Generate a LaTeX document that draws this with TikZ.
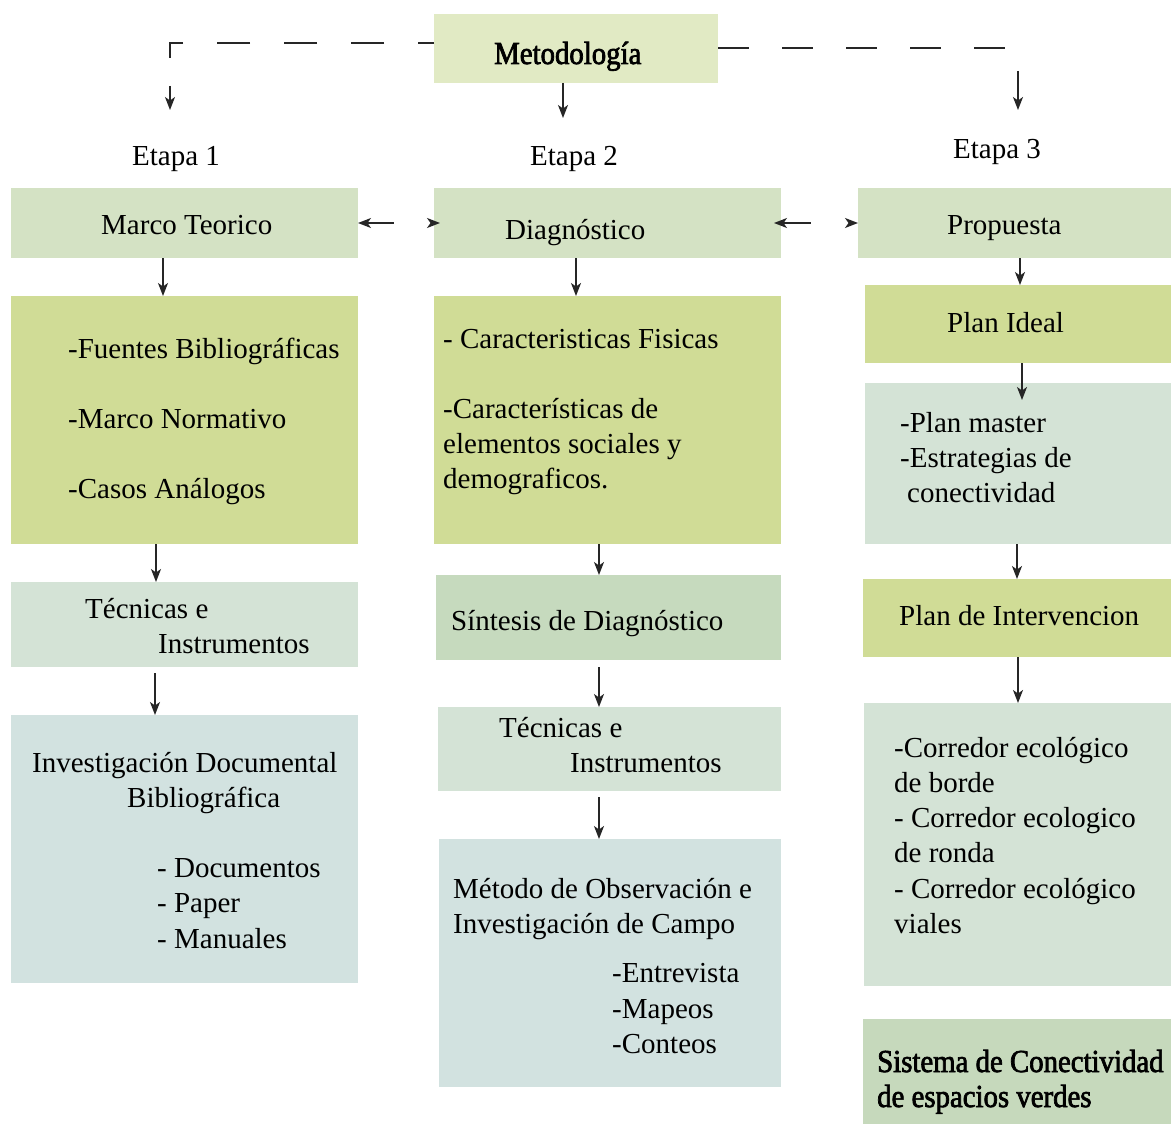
\documentclass[tikz,border=0pt]{standalone}
\usepackage{fontspec}
\setmainfont{Liberation Serif}
\newfontfamily\heavyfont{Liberation Serif}[FakeBold=2.2, FakeStretch=0.9]
\usetikzlibrary{arrows.meta,fit,calc}

\definecolor{cMeto}{HTML}{E1EAC4}
\definecolor{cHead}{HTML}{D4E2C4}
\definecolor{cOlive}{HTML}{D0DC96}
\definecolor{cSage}{HTML}{D4E3D6}
\definecolor{cBlue}{HTML}{D2E2E0}
\definecolor{cSint}{HTML}{C6DABE}
\definecolor{cSist}{HTML}{C6D9BC}

\begin{document}
\begin{tikzpicture}[x=1pt,y=-1pt,
  box/.style={inner sep=0pt, outer sep=0pt, draw=none},
  txt/.style={anchor=base west, inner sep=0pt, font=\fontsize{29}{35}\selectfont, text=black},
  txtb/.style={anchor=base west, inner sep=0pt, font=\fontsize{32}{35}\selectfont\heavyfont, text=black},
  tip/.tip={Stealth[length=13pt,width=10pt,inset=3.5pt]},
  arr/.style={draw=black!85, line width=1.3pt, -tip},
  twoway/.style={draw=black!85, line width=1.3pt, tip-tip},
  guide/.style={draw=black!85, line width=1.2pt}
]
\fill[white] (0,0) rectangle (1171,1124);
\useasboundingbox (0,0) rectangle (1171,1124);

% ---------- boxes ----------
\node[box, fill=cMeto,  fit={(434,14) (718,83)}]    (meto) {};
\node[box, fill=cHead,  fit={(11,188) (358,258)}]   (marco) {};
\node[box, fill=cHead,  fit={(434,188) (781,258)}]  (diag) {};
\node[box, fill=cHead,  fit={(858,188) (1171,258)}] (prop) {};

\node[box, fill=cOlive, fit={(11,296) (358,544)}]   (fuentes) {};
\node[box, fill=cSage,  fit={(11,582) (358,667)}]   (tec1) {};
\node[box, fill=cBlue,  fit={(11,715) (358,983)}]   (inv) {};

\node[box, fill=cOlive, fit={(434,296) (781,544)}]  (carac) {};
\node[box, fill=cSint,  fit={(436,575) (781,660)}]  (sint) {};
\node[box, fill=cSage,  fit={(438,707) (781,791)}]  (tec2) {};
\node[box, fill=cBlue,  fit={(439,839) (781,1087)}] (metodo) {};

\node[box, fill=cOlive, fit={(865,285) (1171,363)}] (plani) {};
\node[box, fill=cSage,  fit={(865,383) (1171,544)}] (master) {};
\node[box, fill=cOlive, fit={(863,579) (1171,657)}] (interv) {};
\node[box, fill=cSage,  fit={(864,703) (1171,986)}] (corr) {};
\node[box, fill=cSist,  fit={(863,1019) (1171,1124)}] (sist) {};

% ---------- texts ----------
\node[txtb] (tMeto) at (494,64) {Metodología};
\node[txt] (tE1) at (132,165) {Etapa 1};
\node[txt] (tE2) at (530,165) {Etapa 2};
\node[txt] (tE3) at (953,158) {Etapa 3};

\node[txt] (tMarco) at (101,234) {Marco Teorico};
\node[txt] (tDiag)  at (505,239) {Diagnóstico};
\node[txt] (tProp)  at (947,234) {Propuesta};

\node[txt] (tF1) at (68,358) {-Fuentes Bibliográficas};
\node[txt] (tF2) at (68,428) {-Marco Normativo};
\node[txt] (tF3) at (68,498) {-Casos Análogos};

\node[txt] (tT1a) at (85,618)  {Técnicas e};
\node[txt] (tT1b) at (158,653) {Instrumentos};

\node[txt] (tI1) at (32,772)  {Investigación Documental};
\node[txt] (tI2) at (127,807) {Bibliográfica};
\node[txt] (tI3) at (157,877) {- Documentos};
\node[txt] (tI4) at (157,912) {- Paper};
\node[txt] (tI5) at (157,948) {- Manuales};

\node[txt] (tC1) at (443,348) {- Caracteristicas Fisicas};
\node[txt] (tC2) at (443,418) {-Características de};
\node[txt] (tC3) at (443,453) {elementos sociales y};
\node[txt] (tC4) at (443,488) {demograficos.};

\node[txt] (tS) at (451,630) {Síntesis de Diagnóstico};

\node[txt] (tT2a) at (499,737) {Técnicas e};
\node[txt] (tT2b) at (570,772) {Instrumentos};

\node[txt] (tM1) at (453,898)  {Método de Observación e};
\node[txt] (tM2) at (453,933)  {Investigación de Campo};
\node[txt] (tM3) at (612,982)  {-Entrevista};
\node[txt] (tM4) at (612,1018) {-Mapeos};
\node[txt] (tM5) at (612,1053) {-Conteos};

\node[txt] (tPI) at (947,332) {Plan Ideal};
\node[txt] (tP1) at (900,432) {-Plan master};
\node[txt] (tP2) at (900,467) {-Estrategias de};
\node[txt] (tP3) at (907,502) {conectividad};
\node[txt] (tPInt) at (899,625) {Plan de Intervencion};

\node[txt] (tR1) at (894,757) {-Corredor ecológico};
\node[txt] (tR2) at (894,792) {de borde};
\node[txt] (tR3) at (894,827) {- Corredor ecologico};
\node[txt] (tR4) at (894,862) {de ronda};
\node[txt] (tR5) at (894,898) {- Corredor ecológico};
\node[txt] (tR6) at (894,933) {viales};

\node[txtb] (tSi1) at (877,1072) {Sistema de Conectividad};
\node[txtb] (tSi2) at (877,1107) {de espacios verdes};

% ---------- connectors from the title ----------
\coordinate (lTurn) at (170,43);
\coordinate (lEnd) at (170,58);
\coordinate (e1out) at (170,86);
\coordinate (e1in) at (170,110);
\coordinate (e2in) at (563,118);
\coordinate (rEnd) at (1007,48);
\coordinate (e3out) at (1018,71);
\coordinate (e3in) at (1018,110);

\draw[guide, dash pattern=on 33pt off 34pt, dash phase=17pt]
  (meto.west |- lTurn) -- (lTurn) -- (lEnd);
\draw[arr] (e1out) -- (e1in);
\draw[guide, dash pattern=on 31pt off 33pt] (meto.east |- rEnd) -- (rEnd);
\draw[arr] (e3out) -- (e3in);
\draw[arr] (e2in |- meto.south) -- (e2in);

% ---------- links between the stages ----------
\coordinate (aL) at (marco.east |- 0,223);
\coordinate (aR) at ($(diag.west |- 0,223)+(6,0)$);
\coordinate (bL) at ($(diag.east |- 0,223)+(-7,0)$);
\coordinate (bR) at (prop.west |- 0,223);
\draw[twoway, dash pattern=on 27pt off 60pt] (aL) -- (aR);
\draw[twoway, dash pattern=on 28pt off 60pt] (bL) -- (bR);

% ---------- column 1 ----------
\draw[arr] (163,0 |- marco.south) -- (163,0 |- fuentes.north);
\draw[arr] (156,0 |- fuentes.south) -- (156,0 |- tec1.north);
\coordinate (tec1out) at (155,673);
\draw[arr] (tec1out) -- (tec1out |- inv.north);

% ---------- column 2 ----------
\draw[arr] (576,0 |- diag.south) -- (576,0 |- carac.north);
\draw[arr] (599,0 |- carac.south) -- (599,0 |- sint.north);
\coordinate (sintout) at (599,667);
\draw[arr] (sintout) -- (sintout |- tec2.north);
\coordinate (tec2out) at (599,797);
\draw[arr] (tec2out) -- (tec2out |- metodo.north);

% ---------- column 3 ----------
\draw[arr] (1020,0 |- prop.south) -- (1020,0 |- plani.north);
\coordinate (masterin) at (1022,400);
\draw[arr] (masterin |- plani.south) -- (masterin);
\draw[arr] (1017,0 |- master.south) -- (1017,0 |- interv.north);
\draw[arr] (1018,0 |- interv.south) -- (1018,0 |- corr.north);
\end{tikzpicture}
\end{document}
